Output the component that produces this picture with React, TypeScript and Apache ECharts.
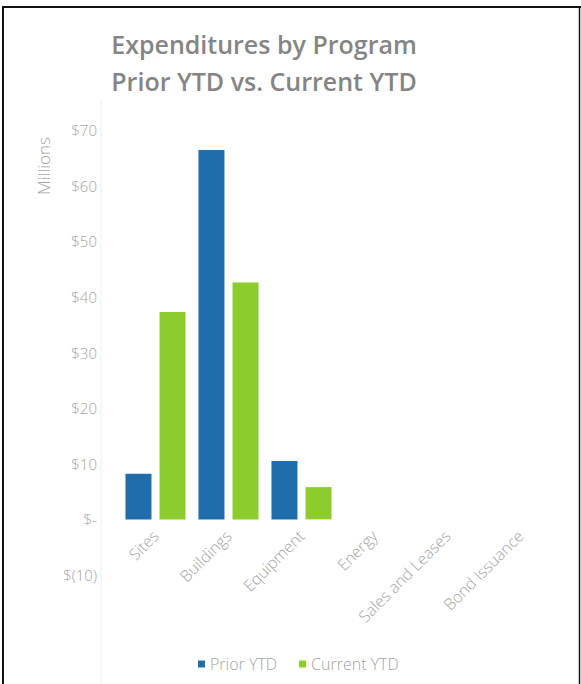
import React, { useEffect, useRef } from "react";
import * as echarts from "echarts";

const categories = ["Sites", "Buildings", "Equipment", "Energy", "Sales and Leases", "Bond Issuance"];
const priorYTD = [8.2, 66.4, 10.5, 0, 0, 0];
const currentYTD = [37.3, 42.6, 5.8, 0, 0, 0];
const yTicks = { min: -10, max: 70, interval: 10 };

const FONT = "Open Sans";
const LABEL_COLOR = "#a3a3a3";

export default function App() {
  const ref = useRef<HTMLDivElement>(null);
  useEffect(() => {
    if (!ref.current) return;
    const chart = echarts.init(ref.current, null, { renderer: "svg" });
    chart.setOption({
      animation: false,
      backgroundColor: "#ffffff",
      title: {
        text: "Expenditures by Program\nPrior YTD vs. Current YTD",
        left: 259,
        top: 20,
        textAlign: "center",
        textStyle: {
          fontFamily: FONT,
          fontSize: 25,
          lineHeight: 37,
          fontWeight: 600,
          color: "#858585",
        },
      },
      legend: {
        data: ["Prior YTD", "Current YTD"],
        left: 193,
        top: 651,
        icon: "rect",
        itemWidth: 7,
        itemHeight: 7,
        itemGap: 22,
        textStyle: { fontFamily: FONT, fontSize: 16, fontWeight: 300, color: LABEL_COLOR },
      },
      grid: { left: 119, top: 130, width: 438, height: 445, containLabel: false },
      xAxis: {
        type: "category",
        data: categories,
        offset: -56,
        axisLine: { show: false, onZero: false },
        axisTick: { show: false },
        axisLabel: {
          rotate: 45,
          interval: 0,
          margin: 14,
          fontFamily: FONT,
          fontSize: 16,
          fontWeight: 300,
          color: LABEL_COLOR,
        },
      },
      yAxis: {
        type: "value",
        min: yTicks.min,
        max: yTicks.max,
        interval: yTicks.interval,
        splitLine: { show: false },
        axisLine: { show: false },
        axisTick: { show: false },
        axisLabel: {
          margin: 22,
          fontFamily: FONT,
          fontSize: 15,
          fontWeight: 300,
          color: LABEL_COLOR,
          formatter: (v: number) => (v === 0 ? "$-" : v < 0 ? `$(${Math.abs(v)})` : `$${v}`),
        },
      },
      series: [
        {
          name: "Prior YTD",
          type: "bar",
          data: priorYTD,
          barWidth: 26,
          barGap: "31%",
          itemStyle: { color: "#1f6eab" },
        },
        {
          name: "Current YTD",
          type: "bar",
          data: currentYTD,
          barWidth: 26,
          itemStyle: { color: "#8ccc2c" },
        },
      ],
      graphic: [
        {
          type: "text",
          x: 43,
          y: 166,
          rotation: Math.PI / 2,
          style: {
            text: "Millions",
            fontFamily: FONT,
            fontSize: 17,
            fontWeight: 300,
            fill: LABEL_COLOR,
            align: "center",
            verticalAlign: "middle",
          },
        },
        { type: "line", shape: { x1: 101, y1: 100, x2: 101, y2: 684 }, style: { stroke: "#eeeeee", lineWidth: 1 } },
        { type: "line", shape: { x1: 3, y1: 7, x2: 581, y2: 7 }, style: { stroke: "#111111", lineWidth: 2 } },
        { type: "line", shape: { x1: 3, y1: 6, x2: 3, y2: 684 }, style: { stroke: "#111111", lineWidth: 2 } },
        { type: "line", shape: { x1: 579.5, y1: 6, x2: 579.5, y2: 684 }, style: { stroke: "#111111", lineWidth: 1.5 } },
      ],
    });
    return () => chart.dispose();
  }, []);
  return (
    <div
      ref={ref}
      style={{ position: "absolute", left: 0, top: 0, width: 581, height: 684 }}
    />
  );
}
